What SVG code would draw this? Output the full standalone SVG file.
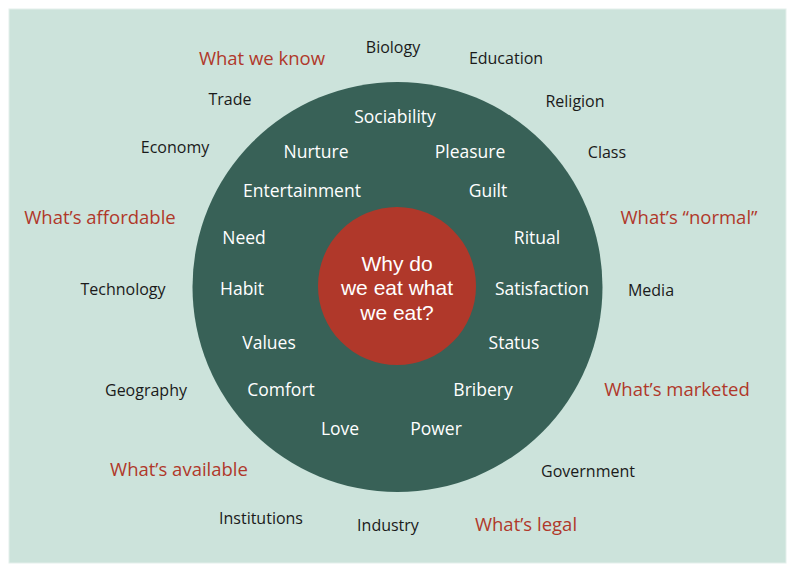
<svg xmlns="http://www.w3.org/2000/svg" width="800" height="572" viewBox="0 0 800 572">
<style>
text{font-family:"Open Sans","Noto Sans",sans-serif;text-anchor:middle}
.o{font-size:16px;fill:#1a1a1a}
.r{font-size:18.5px;fill:#b0382a}
.i{font-size:17.5px;fill:#ffffff}
.c{font-family:"Liberation Sans",Arial,sans-serif;font-size:21px;fill:#ffffff}
</style>
<rect x="0" y="0" width="800" height="572" fill="#ffffff"/>
<rect x="9" y="9" width="777" height="554" fill="#cce3db" stroke="#e4efeb" stroke-width="1"/>
<g id="outer-circle"><circle cx="397.5" cy="287" r="205" fill="#386157"/></g>
<g id="center"><circle cx="397" cy="286" r="79" fill="#b0382a"/>
<text class="c" x="397" y="271">Why do</text>
<text class="c" x="397" y="295">we eat what</text>
<text class="c" x="397" y="320">we eat?</text></g>
<g id="inner-labels">
<text class="i" x="395" y="123">Sociability</text>
<text class="i" x="316" y="158">Nurture</text>
<text class="i" x="470" y="158">Pleasure</text>
<text class="i" x="302" y="197">Entertainment</text>
<text class="i" x="488" y="197">Guilt</text>
<text class="i" x="244" y="244">Need</text>
<text class="i" x="537" y="244">Ritual</text>
<text class="i" x="242" y="295">Habit</text>
<text class="i" x="542" y="295">Satisfaction</text>
<text class="i" x="269" y="349">Values</text>
<text class="i" x="514" y="349">Status</text>
<text class="i" x="281" y="396">Comfort</text>
<text class="i" x="483" y="396">Bribery</text>
<text class="i" x="340" y="435">Love</text>
<text class="i" x="436" y="435">Power</text>
</g>
<g id="outer-labels">
<text class="o" x="393" y="53">Biology</text>
<text class="o" x="506" y="64">Education</text>
<text class="o" x="230" y="105">Trade</text>
<text class="o" x="575" y="107">Religion</text>
<text class="o" x="175" y="153">Economy</text>
<text class="o" x="607" y="158">Class</text>
<text class="o" x="123" y="295">Technology</text>
<text class="o" x="651" y="296">Media</text>
<text class="o" x="146" y="396">Geography</text>
<text class="o" x="588" y="477">Government</text>
<text class="o" x="261" y="524">Institutions</text>
<text class="o" x="388" y="531">Industry</text>
</g>
<g id="red-labels">
<text class="r" x="262" y="65">What we know</text>
<text class="r" x="100" y="224">What’s affordable</text>
<text class="r" x="689" y="224">What’s “normal”</text>
<text class="r" x="677" y="396">What’s marketed</text>
<text class="r" x="179" y="476">What’s available</text>
<text class="r" x="526" y="531">What’s legal</text>
</g>
</svg>
